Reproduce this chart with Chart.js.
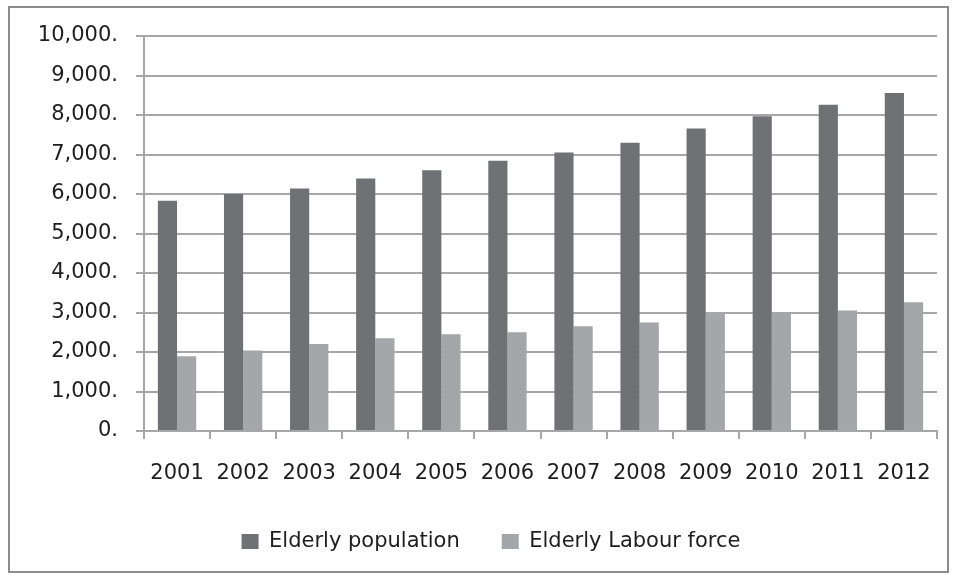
<!DOCTYPE html>
<html>
<head>
<meta charset="utf-8">
<script src="https://cdn.jsdelivr.net/npm/chart.js@4/dist/chart.umd.min.js"></script>
<style>
    html, body { margin: 0; padding: 0; background: #fff; }
    #wrap { width: 954px; height: 582px; position: relative; }
</style>
</head>
<body>
<div id="wrap"><canvas id="elderlyChart" width="954" height="582"></canvas></div>
<script>
// Années et séries
const years = ['2001', '2002', '2003', '2004', '2005', '2006', '2007', '2008', '2009', '2010', '2011', '2012'];
const elderlyPopulation = [5830, 6000, 6140, 6390, 6600, 6840, 7050, 7300, 7660, 7970, 8260, 8560];
const elderlyLabourForce = [1890, 2040, 2200, 2350, 2450, 2500, 2650, 2750, 2960, 3000, 3050, 3260];
const yTicks = [0, 1000, 2000, 3000, 4000, 5000, 6000, 7000, 8000, 9000, 10000];

const gridColor = '#a7a7a9';
const fontFamily = '"DejaVu Sans", Verdana, sans-serif';

// Cadre gris autour de tout le graphique
const framePlugin = {
    id: 'frame',
    beforeDraw(chart) {
        const ctx = chart.ctx;
        ctx.save();
        ctx.fillStyle = '#fff';
        ctx.fillRect(0, 0, chart.width, chart.height);
        ctx.strokeStyle = '#8c8c8c';
        ctx.lineWidth = 2;
        ctx.strokeRect(9, 7, 939, 565);
        ctx.restore();
    }
};

// Décale la légende vers la droite (centrée sous la zone de tracé)
const legendShift = {
    id: 'legendShift',
    afterLayout(chart) {
        if (chart.legend) {
            chart.legend.left = 45;
        }
    }
};

const ctx = document.getElementById('elderlyChart').getContext('2d');

new Chart(ctx, {
    type: 'bar',
    data: {
        labels: years,
        datasets: [{
            label: 'Elderly population',
            data: elderlyPopulation,
            backgroundColor: '#707175',
            borderWidth: 0
        }, {
            label: 'Elderly Labour force',
            data: elderlyLabourForce,
            backgroundColor: '#a5a6a9',
            borderWidth: 0
        }]
    },
    options: {
        responsive: false,
        animation: false,
        events: [],
        layout: {
            padding: { top: 36, right: 17, left: 0, bottom: 20 }
        },
        datasets: {
            bar: {
                categoryPercentage: 0.58,
                barPercentage: 1.0
            }
        },
        plugins: {
            tooltip: { enabled: false },
            legend: {
                position: 'bottom',
                labels: {
                    color: '#1e1e1e',
                    font: { family: fontFamily, size: 21 },
                    boxWidth: 17,
                    boxHeight: 15,
                    padding: 42
                }
            }
        },
        scales: {
            x: {
                grid: {
                    display: true,
                    drawOnChartArea: false,
                    drawTicks: true,
                    tickLength: 8,
                    color: gridColor,
                    lineWidth: 2,
                    offset: true
                },
                border: { color: gridColor, width: 2 },
                ticks: {
                    color: '#1e1e1e',
                    font: { family: fontFamily, size: 21 },
                    padding: 22,
                    maxRotation: 0,
                    autoSkip: false
                },
                afterFit(scale) {
                    scale.height = 58;
                }
            },
            y: {
                min: 0,
                max: 10000,
                afterBuildTicks(scale) {
                    scale.ticks = yTicks.map(v => ({ value: v }));
                },
                grid: {
                    color: gridColor,
                    lineWidth: 2,
                    tickLength: 8
                },
                border: { color: gridColor, width: 2 },
                ticks: {
                    color: '#1e1e1e',
                    font: { family: fontFamily, size: 21 },
                    padding: 18,
                    callback: v => v.toLocaleString('en-US') + '.'
                },
                // largeur fixe : l'axe se place à x = 144
                afterFit(scale) {
                    scale.width = 144;
                }
            }
        }
    },
    plugins: [framePlugin, legendShift]
});
</script>
</body>
</html>
